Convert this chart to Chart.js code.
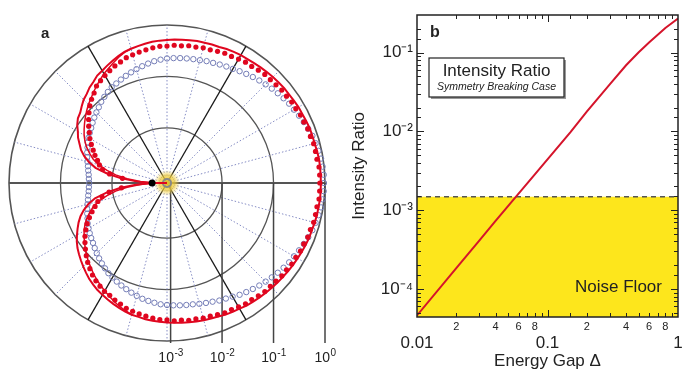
<!DOCTYPE html>
<html>
<head>
<meta charset="utf-8">
<script src="https://cdn.jsdelivr.net/npm/chart.js@4.4.1/dist/chart.umd.min.js"></script>
<style>
  body { margin: 0; background: #fff; }
  #wrap { position: relative; width: 692px; height: 382px; }
  canvas { position: absolute; top: 0; }
  #polar { left: 0; }
  #ratio { left: 346px; }
</style>
</head>
<body>
<div id="wrap">
  <canvas id="polar" width="346" height="382"></canvas>
  <canvas id="ratio" width="346" height="382"></canvas>
</div>
<script>
// ---- panel a: log10(intensity) against emission angle, 3 degree steps ----
// "upper" = 0..180 deg above the axis, "lower" = 0..-180 deg below it
const angleStep = 3;
const radialMin = -3.07;
const ringTicks = [-3, -2, -1, 0];

const redLineUpper = [
  -0.08, -0.08, -0.08, -0.08, -0.09, -0.10, -0.10, -0.10, -0.11, -0.12,
  -0.12, -0.13, -0.14, -0.14, -0.15, -0.16, -0.17, -0.18, -0.19, -0.20,
  -0.20, -0.21, -0.22, -0.24, -0.24, -0.25, -0.25, -0.26, -0.27, -0.28,
  -0.29, -0.30, -0.31, -0.33, -0.35, -0.37, -0.39, -0.43, -0.47, -0.51,
  -0.55, -0.58, -0.64, -0.68, -0.74, -0.78, -0.84, -0.90, -0.93, -0.99,
  -1.07, -1.13, -1.21, -1.28, -1.38, -1.50, -1.65, -1.89, -2.16, -2.47,
  -2.78];
const redLineLower = [
  -0.08, -0.08, -0.08, -0.09, -0.09, -0.10, -0.11, -0.11, -0.12, -0.13,
  -0.14, -0.15, -0.16, -0.17, -0.18, -0.19, -0.20, -0.21, -0.22, -0.23,
  -0.25, -0.26, -0.27, -0.29, -0.30, -0.31, -0.32, -0.33, -0.34, -0.35,
  -0.36, -0.37, -0.38, -0.39, -0.41, -0.42, -0.44, -0.47, -0.50, -0.53,
  -0.56, -0.59, -0.63, -0.67, -0.72, -0.77, -0.82, -0.87, -0.92, -0.98,
  -1.05, -1.12, -1.19, -1.27, -1.37, -1.49, -1.64, -1.88, -2.15, -2.46,
  -2.78];
const innerLineUpper = [...Array(35).fill(null),
  -0.37, -0.40, -0.45, -0.51, -0.57, -0.62, -0.68, -0.74, -0.80, -0.86,
  -0.91, -0.97, -1.03, -1.09, -1.15, -1.21, -1.28, -1.36, -1.46, -1.56,
  -1.69, -1.87, -2.06, -2.29, -2.55, -2.78];
const innerLineLower = [...Array(35).fill(null),
  -0.42, -0.46, -0.50, -0.55, -0.60, -0.65, -0.70, -0.75, -0.80, -0.86,
  -0.91, -0.97, -1.03, -1.09, -1.15, -1.21, -1.28, -1.36, -1.46, -1.56,
  -1.69, -1.87, -2.06, -2.29, -2.55, -2.78];
const redDotsUpper = [
  -0.10, -0.10, -0.10, -0.12, -0.12, -0.12, -0.14, -0.14, -0.16, -0.16,
  -0.18, -0.18, -0.20, -0.20, -0.22, -0.23, -0.23, -0.25, -0.27, -0.27,
  -0.29, -0.31, -0.31, -0.33, -0.35, -0.35, -0.37, -0.37, -0.39, -0.39,
  -0.41, -0.41, -0.43, -0.45, -0.47, -0.49, -0.51, -0.55, -0.58, -0.62,
  -0.66, -0.70, -0.74, -0.82, -0.88, -0.95, -1.03, -1.11, -1.19, -1.27,
  -1.34, -1.42, -1.50, -1.57, -1.65, -1.71, -1.79, -1.94, -2.20, null,
  null];
const redDotsLower = [
  -0.10, -0.10, -0.10, -0.12, -0.12, -0.12, -0.14, -0.14, -0.16, -0.16,
  -0.18, -0.18, -0.20, -0.20, -0.22, -0.23, -0.23, -0.25, -0.27, -0.27,
  -0.29, -0.31, -0.31, -0.33, -0.35, -0.35, -0.37, -0.37, -0.39, -0.39,
  -0.41, -0.41, -0.43, -0.45, -0.47, -0.49, -0.51, -0.55, -0.58, -0.62,
  -0.64, -0.68, -0.72, -0.77, -0.83, -0.89, -0.96, -1.03, -1.10, -1.17,
  -1.25, -1.33, -1.42, -1.51, -1.60, -1.68, -1.78, -1.93, -2.18, null,
  null];
const blueUpper = [
  -0.02, -0.02, -0.03, -0.04, -0.06, -0.08, -0.10, -0.13, -0.16, -0.19,
  -0.22, -0.24, -0.27, -0.30, -0.33, -0.36, -0.39, -0.42, -0.45, -0.48,
  -0.51, -0.53, -0.55, -0.57, -0.58, -0.60, -0.61, -0.62, -0.63, -0.64,
  -0.65, -0.67, -0.69, -0.72, -0.75, -0.78, -0.81, -0.84, -0.87, -0.90,
  -0.92, -0.96, -1.00, -1.04, -1.09, -1.13, -1.17, -1.21, -1.25, -1.28,
  -1.31, -1.34, -1.38, -1.41, -1.44, -1.47, -1.50, -1.52, -1.54, -1.55,
  -1.56];
const blueLower = [
  -0.02, -0.02, -0.03, -0.04, -0.06, -0.08, -0.10, -0.13, -0.16, -0.19,
  -0.22, -0.24, -0.27, -0.30, -0.33, -0.36, -0.39, -0.42, -0.45, -0.48,
  -0.52, -0.55, -0.57, -0.60, -0.62, -0.64, -0.66, -0.67, -0.68, -0.69,
  -0.70, -0.71, -0.73, -0.75, -0.77, -0.80, -0.83, -0.86, -0.89, -0.92,
  -0.95, -0.98, -1.02, -1.06, -1.10, -1.14, -1.18, -1.22, -1.25, -1.28,
  -1.31, -1.34, -1.38, -1.41, -1.44, -1.47, -1.50, -1.52, -1.54, -1.55,
  -1.56];
const cuspLog = -2.78;

// ---- panel b ----
const energyGap = [0.01, 0.02, 0.03, 0.04, 0.0574, 0.08, 0.1, 0.15, 0.2, 0.3, 0.4, 0.5, 0.6, 0.8, 1];
const intensityRatio = [4.6e-5, 1.84e-4, 4.1e-4, 7.3e-4, 1.48e-3, 2.85e-3, 4.4e-3, 9.8e-3, 0.0178, 0.0395, 0.069, 0.101, 0.134, 0.205, 0.27];
const noiseFloor = 1.48e-3;
const crossGap = 0.0574;
const gapRange = [0.01, 1];
const ratioRange = [4.4e-5, 0.3];

const FONT = "'Liberation Sans', Arial, Helvetica, sans-serif";
Chart.defaults.font.family = FONT;
Chart.defaults.color = '#222';
const RED = '#e0061f';

// radar runs clockwise from the right: lower half first, then upper half back to the right
const ring = (lower, upper) => lower.concat(upper.slice(1, 60).reverse());
const nPts = 360 / angleStep;
const angleLabels = Array.from({ length: nPts }, (_, i) => (360 - i * angleStep) % 360);
const cuspData = angleLabels.map(a => (a === 180 ? cuspLog : null));

const polarExtras = {
  id: 'polarExtras',
  beforeDatasetsDraw(chart) {
    const { ctx } = chart;
    const r = chart.scales.r;
    const cx = r.xCenter, cy = r.yCenter;
    ctx.save();
    // vertical axis lines down to the decade labels
    ctx.strokeStyle = '#444';
    ctx.lineWidth = 1.5;
    ringTicks.forEach(v => {
      const x = cx + r.getDistanceFromCenterForValue(v);
      ctx.beginPath();
      ctx.moveTo(x, cy);
      ctx.lineTo(x, cy + r.drawingArea + 2);
      ctx.stroke();
    });
    // glow at the centre
    const g = ctx.createRadialGradient(cx, cy, 0, cx, cy, 13);
    g.addColorStop(0, 'rgba(238,200,40,0.95)');
    g.addColorStop(0.6, 'rgba(240,205,60,0.7)');
    g.addColorStop(1, 'rgba(240,210,80,0)');
    ctx.fillStyle = g;
    ctx.beginPath();
    ctx.arc(cx, cy, 13, 0, Math.PI * 2);
    ctx.fill();
    ctx.strokeStyle = '#888';
    ctx.lineWidth = 2;
    ctx.beginPath();
    ctx.arc(cx, cy, 4, 0, Math.PI * 2);
    ctx.stroke();
    // red stub from the cusp into the centre
    const p = r.getPointPositionForValue(angleLabels.indexOf(180), cuspLog);
    ctx.strokeStyle = RED;
    ctx.lineWidth = 2;
    ctx.beginPath();
    ctx.moveTo(p.x, p.y);
    ctx.lineTo(cx, cy);
    ctx.stroke();
    ctx.restore();
  },
  afterDraw(chart) {
    const { ctx } = chart;
    const r = chart.scales.r;
    ctx.save();
    ctx.fillStyle = '#222';
    ctx.textBaseline = 'alphabetic';
    const y = r.yCenter + r.drawingArea + 21;
    ringTicks.forEach(v => {
      const x = r.xCenter + r.getDistanceFromCenterForValue(v);
      ctx.font = '14px ' + FONT;
      const bw = ctx.measureText('10').width;
      ctx.font = '10px ' + FONT;
      const exp = String(v);
      const ew = ctx.measureText(exp).width;
      const x0 = x - (bw + ew) / 2;
      ctx.font = '14px ' + FONT;
      ctx.textAlign = 'left';
      ctx.fillText('10', x0, y);
      ctx.font = '10px ' + FONT;
      ctx.fillText(exp, x0 + bw + 0.5, y - 6);
    });
    ctx.font = 'bold 15px ' + FONT;
    ctx.textAlign = 'left';
    ctx.fillText('a', 41, 38);
    ctx.restore();
  }
};

new Chart(document.getElementById('polar'), {
  type: 'radar',
  data: {
    labels: angleLabels,
    datasets: [
      { label: 'cusp', data: cuspData, showLine: false, fill: false, clip: false,
        pointRadius: 3.5, pointBackgroundColor: '#000', pointBorderWidth: 0 },
      { label: 'theory', data: ring(redLineLower, redLineUpper), fill: false, clip: false,
        borderColor: RED, borderWidth: 2, pointRadius: 0 },
      { label: 'theory (inner)', data: ring(innerLineLower, innerLineUpper), fill: false, clip: false,
        spanGaps: false, borderColor: RED, borderWidth: 1.5, pointRadius: 0 },
      { label: 'symmetric', data: ring(redDotsLower, redDotsUpper), showLine: false, fill: false, clip: false,
        pointRadius: 2.6, pointBackgroundColor: RED, pointBorderWidth: 0 },
      { label: 'broken', data: ring(blueLower, blueUpper), showLine: false, fill: false, clip: false,
        pointRadius: 2.7, pointBackgroundColor: 'rgba(255,255,255,0)', pointBorderColor: '#737cb6', pointBorderWidth: 1 }
    ]
  },
  options: {
    responsive: false,
    animation: false,
    events: [],
    layout: { padding: { left: 9, top: 25, right: 21, bottom: 41 } },
    plugins: { legend: { display: false }, tooltip: { enabled: false } },
    scales: {
      r: {
        min: radialMin,
        max: 0,
        startAngle: 90,
        afterBuildTicks: s => { s.ticks = [radialMin, ...ringTicks].map(v => ({ value: v })); },
        ticks: { display: false },
        pointLabels: { display: false },
        grid: {
          circular: true,
          color: c => (c.index === 0 ? 'rgba(0,0,0,0)' : c.tick.value === -3 ? '#888' : '#555'),
          lineWidth: c => (c.tick.value === 0 ? 1.6 : 1.3)
        },
        angleLines: {
          color: c => (c.index % 60 === 0 ? '#555' : c.index % 20 === 0 ? '#1a1a1a' : '#858cc4'),
          lineWidth: c => (c.index % 5 !== 0 ? 0 : c.index % 60 === 0 ? 2 : c.index % 20 === 0 ? 1.3 : 1),
          borderDash: c => (c.index % 20 === 0 ? [] : [1.5, 2])
        }
      }
    }
  },
  plugins: [polarExtras]
});

// ---- panel b ----
const isDecade = v => Math.abs(Math.log10(v) - Math.round(Math.log10(v))) < 1e-6;
const SUP = { '-': '\u207B', '0': '\u2070', '1': '\u00B9', '2': '\u00B2', '3': '\u00B3', '4': '\u2074' };
const supText = n => String(n).split('').map(ch => SUP[ch]).join('');

const frameTicks = {
  id: 'frameTicks',
  afterDraw(chart) {
    const { ctx, chartArea: a, scales: { x, y } } = chart;
    ctx.save();
    ctx.strokeStyle = '#222';
    ctx.lineWidth = 1;
    const seg = (x1, y1, x2, y2) => { ctx.beginPath(); ctx.moveTo(x1, y1); ctx.lineTo(x2, y2); ctx.stroke(); };
    x.ticks.forEach(t => {
      if (t.value <= x.min || t.value >= x.max) return;
      const px = Math.round(x.getPixelForValue(t.value)) + 0.5;
      const len = isDecade(t.value) ? 7 : 4;
      seg(px, a.bottom, px, a.bottom - len);
      seg(px, a.top, px, a.top + len);
    });
    y.ticks.forEach(t => {
      if (t.value <= y.min || t.value >= y.max) return;
      const py = Math.round(y.getPixelForValue(t.value)) + 0.5;
      const len = isDecade(t.value) ? 7 : 4;
      seg(a.left, py, a.left + len, py);
      seg(a.right, py, a.right - len, py);
    });
    ctx.lineWidth = 1.5;
    ctx.strokeRect(a.left, a.top, a.right - a.left, a.bottom - a.top);

    // legend box
    const bx = a.left + 12, by = a.top + 43, bw = 135, bh = 39;
    ctx.fillStyle = '#999';
    ctx.fillRect(bx + 2, by + 2, bw, bh);
    ctx.fillStyle = '#fff';
    ctx.fillRect(bx, by, bw, bh);
    ctx.lineWidth = 1.2;
    ctx.strokeRect(bx, by, bw, bh);
    ctx.fillStyle = '#222';
    ctx.textAlign = 'center';
    ctx.textBaseline = 'middle';
    ctx.font = '17px ' + FONT;
    ctx.fillText('Intensity Ratio', bx + bw / 2, by + 13);
    ctx.font = 'italic 10.5px ' + FONT;
    ctx.fillText('Symmetry Breaking Case', bx + bw / 2, by + 29);

    ctx.font = '17px ' + FONT;
    ctx.fillText('Noise Floor', x.getPixelForValue(0.35), y.getPixelForValue(1e-4) - 2);

    ctx.font = 'bold 16px ' + FONT;
    ctx.textAlign = 'left';
    ctx.fillText('b', a.left + 13, 33);
    ctx.restore();
  }
};

new Chart(document.getElementById('ratio'), {
  type: 'scatter',
  data: {
    datasets: [
      { label: 'Intensity Ratio', data: energyGap.map((g, i) => ({ x: g, y: intensityRatio[i] })),
        showLine: true, borderColor: '#d5142b', borderWidth: 2, pointRadius: 0 },
      { label: 'Noise Floor', data: gapRange.map(g => ({ x: g, y: noiseFloor })),
        showLine: true, borderColor: '#555', borderWidth: 1.5, borderDash: [5, 4], pointRadius: 0,
        fill: 'start', backgroundColor: '#fde61c' },
      { label: 'cut-off', data: [{ x: crossGap, y: ratioRange[0] }, { x: crossGap, y: noiseFloor }],
        showLine: true, borderColor: '#555', borderWidth: 1.5, borderDash: [5, 4], pointRadius: 0 }
    ]
  },
  options: {
    responsive: false,
    animation: false,
    events: [],
    layout: { padding: { top: 15, right: 14 } },
    plugins: { legend: { display: false }, tooltip: { enabled: false } },
    scales: {
      x: {
        type: 'logarithmic',
        min: gapRange[0],
        max: gapRange[1],
        grid: { display: false, drawTicks: false },
        border: { display: false },
        ticks: {
          autoSkip: false, maxRotation: 0, minRotation: 0, padding: 3, color: '#222',
          font: c => (isDecade(c.tick.value) ? { size: 17, lineHeight: 0.9 } : { size: 11 }),
          callback: v => {
            if (isDecade(v)) return ['', String(Number(v.toPrecision(2)))];
            const m = Math.round(v / Math.pow(10, Math.floor(Math.log10(v) + 1e-9)));
            return [2, 4, 6, 8].includes(m) ? String(m) : '';
          }
        },
        title: { display: true, text: 'Energy Gap \u0394', font: { size: 17 }, padding: { top: 0, bottom: 10 }, color: '#222' },
        afterFit: s => { s.height = 65; }
      },
      y: {
        type: 'logarithmic',
        min: ratioRange[0],
        max: ratioRange[1],
        grid: { display: false, drawTicks: false },
        border: { display: false },
        ticks: {
          autoSkip: false, padding: 4, color: '#222', font: { size: 17 },
          callback: v => (isDecade(v) ? '10' + supText(Math.round(Math.log10(v))) : '')
        },
        title: { display: true, text: 'Intensity Ratio', font: { size: 17 }, padding: { top: 3, bottom: 0 }, color: '#222' },
        afterFit: s => { s.width = 71; }
      }
    }
  },
  plugins: [frameTicks]
});
</script>
</body>
</html>
